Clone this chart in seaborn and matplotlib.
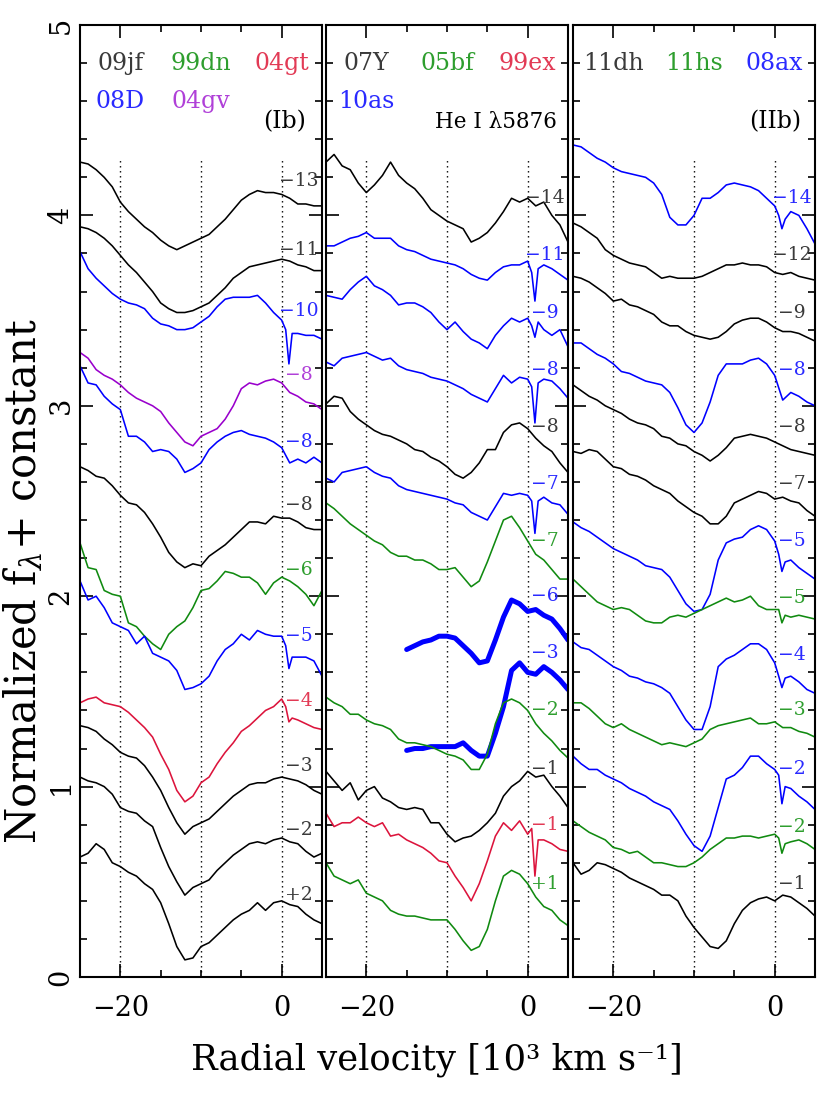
import matplotlib
matplotlib.use("Agg")
import matplotlib.pyplot as plt
import seaborn as sns
from matplotlib.ticker import MultipleLocator

# velocity grids [10^3 km/s]
VEL = [-25, -24, -23, -22, -21, -20, -19, -18, -17, -16, -15, -14, -13, -12, -11, -10,
       -9, -8, -7, -6, -5, -4, -3, -2, -1, 0, 1, 2, 3, 4, 5]
# same grid, finer around the narrow Na I D notch near +1
VEL_NA = [-25, -24, -23, -22, -21, -20, -19, -18, -17, -16, -15, -14, -13, -12, -11, -10,
          -9, -8, -7, -6, -5, -4, -3, -2, -1, 0, 0.5, 0.9, 1.3, 2, 3, 4, 5]
VEL_10AS = [-15, -14, -13, -12, -11, -10, -9, -8, -7, -6, -5, -4, -3, -2, -1, 0, 1, 2, 3, 4, 5]

# --- Ib panel ---
IB_09JF_M13 = [4.28, 4.27, 4.24, 4.20, 4.15, 4.07, 4.02, 3.98, 3.94, 3.91, 3.87, 3.84, 3.82, 3.84, 3.86, 3.88,
               3.90, 3.94, 3.98, 4.03, 4.08, 4.11, 4.13, 4.12, 4.12, 4.11, 4.09, 4.06, 4.06, 4.05, 4.05]
IB_09JF_M11 = [3.94, 3.93, 3.91, 3.88, 3.84, 3.79, 3.74, 3.70, 3.65, 3.60, 3.54, 3.51, 3.49, 3.49, 3.50, 3.52,
               3.54, 3.58, 3.62, 3.67, 3.70, 3.73, 3.74, 3.75, 3.76, 3.77, 3.76, 3.74, 3.73, 3.71, 3.71]
IB_08D_M10 = [3.81, 3.72, 3.67, 3.63, 3.59, 3.56, 3.54, 3.53, 3.51, 3.46, 3.43, 3.42, 3.40, 3.40, 3.41, 3.44,
              3.47, 3.52, 3.56, 3.57, 3.57, 3.57, 3.58, 3.54, 3.49, 3.45, 3.40, 3.22, 3.38, 3.38, 3.37, 3.37, 3.35]
IB_04GV_M8 = [3.28, 3.25, 3.19, 3.16, 3.14, 3.11, 3.07, 3.04, 3.02, 3.00, 2.97, 2.91, 2.86, 2.81, 2.79, 2.84,
              2.86, 2.88, 2.93, 3.00, 3.09, 3.12, 3.11, 3.13, 3.14, 3.12, 3.07, 3.05, 3.02, 3.01, 2.98]
IB_08D_M8 = [3.21, 3.12, 3.11, 3.05, 3.01, 2.98, 2.84, 2.84, 2.81, 2.76, 2.77, 2.76, 2.72, 2.65, 2.67, 2.70,
             2.77, 2.81, 2.84, 2.86, 2.87, 2.85, 2.84, 2.83, 2.81, 2.78, 2.70, 2.72, 2.70, 2.73, 2.70]
IB_09JF_M8 = [2.68, 2.66, 2.63, 2.62, 2.58, 2.53, 2.49, 2.48, 2.44, 2.38, 2.31, 2.23, 2.18, 2.15, 2.17, 2.16,
              2.21, 2.24, 2.27, 2.31, 2.35, 2.39, 2.39, 2.38, 2.42, 2.41, 2.41, 2.39, 2.36, 2.35, 2.35]
IB_99DN_M6 = [2.28, 2.15, 2.14, 2.03, 2.01, 2.00, 1.86, 1.84, 1.79, 1.75, 1.72, 1.80, 1.84, 1.87, 1.94, 2.03,
              2.04, 2.08, 2.13, 2.12, 2.10, 2.10, 2.07, 2.01, 2.07, 2.10, 2.08, 2.05, 2.01, 1.95, 2.03]
IB_08D_M5 = [2.08, 1.98, 2.00, 1.94, 1.86, 1.84, 1.82, 1.75, 1.79, 1.70, 1.68, 1.66, 1.61, 1.51, 1.52, 1.54,
             1.58, 1.66, 1.72, 1.75, 1.80, 1.77, 1.82, 1.80, 1.79, 1.79, 1.74, 1.62, 1.68, 1.68, 1.68, 1.66, 1.58]
IB_04GT_M4 = [1.44, 1.46, 1.47, 1.44, 1.43, 1.42, 1.39, 1.35, 1.31, 1.26, 1.17, 1.09, 0.98, 0.92, 0.95, 1.02,
              1.05, 1.12, 1.18, 1.23, 1.29, 1.32, 1.36, 1.40, 1.42, 1.46, 1.42, 1.34, 1.36, 1.35, 1.33, 1.31, 1.30]
IB_09JF_M3 = [1.32, 1.31, 1.29, 1.25, 1.22, 1.18, 1.16, 1.15, 1.11, 1.05, 0.98, 0.89, 0.81, 0.75, 0.79, 0.81,
              0.83, 0.87, 0.91, 0.95, 0.98, 1.01, 1.02, 1.02, 1.04, 1.05, 1.04, 1.03, 1.01, 0.98, 0.96]
IB_09JF_M2 = [1.05, 1.03, 1.02, 1.00, 0.96, 0.89, 0.87, 0.86, 0.82, 0.79, 0.68, 0.58, 0.50, 0.43, 0.47, 0.49,
              0.51, 0.56, 0.60, 0.64, 0.67, 0.70, 0.71, 0.70, 0.72, 0.73, 0.71, 0.70, 0.66, 0.63, 0.65]
IB_09JF_P2 = [0.63, 0.65, 0.70, 0.67, 0.60, 0.58, 0.55, 0.53, 0.49, 0.46, 0.39, 0.28, 0.16, 0.09, 0.10, 0.16,
              0.18, 0.22, 0.26, 0.30, 0.33, 0.35, 0.39, 0.35, 0.39, 0.40, 0.38, 0.37, 0.33, 0.30, 0.28]

# --- He I panel ---
HE_07Y_M14 = [4.28, 4.32, 4.26, 4.24, 4.17, 4.12, 4.16, 4.21, 4.28, 4.21, 4.17, 4.14, 4.09, 4.03, 4.00, 3.97,
              3.95, 3.93, 3.86, 3.88, 3.91, 3.96, 4.02, 4.09, 4.07, 4.09, 4.05, 4.07, 4.00, 3.95, 3.86]
HE_10AS_M11 = [3.84, 3.84, 3.86, 3.88, 3.89, 3.91, 3.88, 3.88, 3.88, 3.84, 3.82, 3.81, 3.79, 3.77, 3.76, 3.75,
               3.74, 3.72, 3.69, 3.67, 3.66, 3.70, 3.73, 3.74, 3.74, 3.76, 3.70, 3.55, 3.72, 3.74, 3.72, 3.69, 3.66]
HE_10AS_M9 = [3.58, 3.57, 3.56, 3.61, 3.65, 3.68, 3.63, 3.61, 3.58, 3.53, 3.54, 3.54, 3.52, 3.49, 3.44, 3.40,
              3.44, 3.39, 3.35, 3.33, 3.30, 3.37, 3.42, 3.46, 3.44, 3.46, 3.42, 3.36, 3.44, 3.40, 3.37, 3.40, 3.31]
HE_10AS_M8 = [3.23, 3.21, 3.25, 3.26, 3.27, 3.28, 3.26, 3.24, 3.25, 3.21, 3.19, 3.18, 3.17, 3.15, 3.14, 3.13,
              3.11, 3.09, 3.06, 3.04, 3.02, 3.09, 3.16, 3.12, 3.15, 3.14, 3.10, 2.91, 3.12, 3.14, 3.13, 3.09, 3.04]
HE_07Y_M8 = [3.01, 3.05, 3.04, 2.97, 2.93, 2.90, 2.87, 2.85, 2.84, 2.82, 2.80, 2.77, 2.76, 2.73, 2.71, 2.68,
             2.64, 2.62, 2.65, 2.70, 2.77, 2.77, 2.86, 2.90, 2.91, 2.88, 2.83, 2.79, 2.76, 2.70, 2.65]
HE_10AS_M7 = [2.62, 2.60, 2.65, 2.66, 2.67, 2.68, 2.65, 2.63, 2.62, 2.58, 2.56, 2.55, 2.54, 2.53, 2.52, 2.51,
              2.49, 2.48, 2.44, 2.42, 2.40, 2.47, 2.54, 2.53, 2.54, 2.53, 2.50, 2.33, 2.50, 2.52, 2.49, 2.48, 2.43]
HE_05BF_M7 = [2.49, 2.46, 2.42, 2.38, 2.35, 2.32, 2.29, 2.27, 2.23, 2.21, 2.21, 2.19, 2.19, 2.17, 2.14, 2.14,
              2.15, 2.10, 2.05, 2.08, 2.18, 2.29, 2.40, 2.42, 2.36, 2.29, 2.22, 2.19, 2.14, 2.09, 2.09]
HE_10AS_M6 = [1.72, 1.74, 1.76, 1.77, 1.79, 1.79, 1.78, 1.74, 1.70, 1.65, 1.66, 1.77, 1.89, 1.98, 1.96, 1.92,
              1.93, 1.90, 1.88, 1.83, 1.77]
HE_10AS_M3 = [1.19, 1.20, 1.20, 1.21, 1.21, 1.21, 1.21, 1.23, 1.19, 1.16, 1.16, 1.28, 1.42, 1.61, 1.65, 1.60,
              1.59, 1.63, 1.60, 1.56, 1.51]
HE_05BF_M2 = [1.47, 1.44, 1.42, 1.38, 1.38, 1.35, 1.33, 1.32, 1.30, 1.25, 1.23, 1.23, 1.22, 1.21, 1.19, 1.17,
              1.16, 1.14, 1.09, 1.09, 1.17, 1.33, 1.44, 1.46, 1.44, 1.40, 1.33, 1.28, 1.24, 1.19, 1.15]
HE_07Y_M1 = [1.08, 1.03, 0.98, 1.02, 0.93, 0.98, 1.00, 0.94, 0.92, 0.89, 0.88, 0.89, 0.88, 0.81, 0.81, 0.75,
             0.71, 0.73, 0.74, 0.77, 0.81, 0.86, 0.95, 1.00, 1.03, 1.08, 1.05, 1.06, 1.00, 0.95, 0.89]
HE_99EX_M1 = [0.86, 0.79, 0.81, 0.81, 0.84, 0.81, 0.79, 0.81, 0.74, 0.75, 0.72, 0.70, 0.68, 0.65, 0.61, 0.60,
              0.53, 0.47, 0.40, 0.49, 0.61, 0.74, 0.81, 0.77, 0.82, 0.75, 0.78, 0.53, 0.72, 0.72, 0.70, 0.67, 0.66]
HE_05BF_P1 = [0.60, 0.53, 0.51, 0.49, 0.51, 0.44, 0.42, 0.40, 0.35, 0.33, 0.32, 0.32, 0.31, 0.30, 0.30, 0.30,
              0.25, 0.19, 0.14, 0.16, 0.25, 0.40, 0.53, 0.56, 0.54, 0.49, 0.42, 0.37, 0.35, 0.30, 0.27]

# --- IIb panel ---
IIB_08AX_M14 = [4.37, 4.36, 4.33, 4.30, 4.28, 4.25, 4.23, 4.22, 4.21, 4.20, 4.17, 4.11, 3.99, 3.95, 3.95, 4.00,
                4.09, 4.09, 4.12, 4.16, 4.17, 4.16, 4.15, 4.13, 4.09, 4.05, 4.00, 3.93, 3.98, 4.02, 4.00, 3.93, 3.85]
IIB_11DH_M12 = [3.96, 3.94, 3.91, 3.88, 3.82, 3.79, 3.77, 3.75, 3.74, 3.73, 3.70, 3.67, 3.68, 3.67, 3.67, 3.67,
                3.68, 3.70, 3.72, 3.74, 3.74, 3.75, 3.74, 3.74, 3.73, 3.70, 3.69, 3.70, 3.68, 3.67, 3.66]
IIB_11DH_M9 = [3.68, 3.67, 3.65, 3.62, 3.59, 3.55, 3.56, 3.53, 3.52, 3.50, 3.48, 3.44, 3.42, 3.42, 3.39, 3.37,
               3.36, 3.35, 3.36, 3.39, 3.43, 3.45, 3.46, 3.46, 3.44, 3.41, 3.39, 3.39, 3.38, 3.36, 3.34]
IIB_08AX_M8 = [3.33, 3.33, 3.30, 3.27, 3.25, 3.22, 3.18, 3.17, 3.15, 3.13, 3.12, 3.11, 3.07, 2.99, 2.90, 2.86,
               2.91, 3.02, 3.16, 3.22, 3.22, 3.22, 3.24, 3.25, 3.22, 3.16, 3.03, 3.07, 3.05, 3.02, 3.00]
IIB_11DH_M8 = [3.11, 3.08, 3.05, 3.03, 3.00, 2.98, 2.96, 2.93, 2.91, 2.90, 2.88, 2.84, 2.83, 2.80, 2.79, 2.76,
               2.74, 2.71, 2.74, 2.78, 2.83, 2.84, 2.85, 2.84, 2.83, 2.81, 2.79, 2.77, 2.76, 2.75, 2.74]
IIB_11DH_M7 = [2.76, 2.75, 2.77, 2.76, 2.72, 2.68, 2.67, 2.64, 2.63, 2.61, 2.58, 2.56, 2.54, 2.50, 2.47, 2.44,
               2.42, 2.38, 2.38, 2.42, 2.49, 2.51, 2.53, 2.55, 2.54, 2.51, 2.52, 2.50, 2.49, 2.45, 2.42]
IIB_08AX_M5 = [2.39, 2.36, 2.34, 2.31, 2.28, 2.25, 2.23, 2.21, 2.19, 2.16, 2.15, 2.14, 2.10, 2.03, 1.96, 1.92,
               1.93, 2.01, 2.19, 2.28, 2.30, 2.31, 2.35, 2.37, 2.35, 2.29, 2.22, 2.13, 2.18, 2.19, 2.15, 2.12, 2.09]
IIB_11HS_M5 = [2.09, 2.05, 2.01, 1.97, 1.95, 1.93, 1.94, 1.93, 1.90, 1.87, 1.86, 1.86, 1.89, 1.90, 1.89, 1.91,
               1.93, 1.95, 1.97, 1.99, 1.97, 1.98, 2.00, 1.95, 1.93, 1.93, 1.93, 1.86, 1.90, 1.89, 1.90, 1.89, 1.88]
IIB_08AX_M4 = [1.76, 1.73, 1.72, 1.69, 1.66, 1.63, 1.61, 1.58, 1.57, 1.55, 1.54, 1.52, 1.49, 1.42, 1.35, 1.30,
               1.30, 1.42, 1.63, 1.67, 1.69, 1.72, 1.75, 1.75, 1.72, 1.65, 1.58, 1.52, 1.57, 1.58, 1.55, 1.51, 1.49]
IIB_11HS_M3 = [1.44, 1.44, 1.41, 1.37, 1.33, 1.31, 1.33, 1.30, 1.28, 1.26, 1.24, 1.22, 1.23, 1.22, 1.21, 1.23,
               1.25, 1.30, 1.32, 1.33, 1.34, 1.35, 1.36, 1.33, 1.33, 1.34, 1.31, 1.31, 1.29, 1.28, 1.26]
IIB_08AX_M2 = [1.16, 1.12, 1.09, 1.09, 1.06, 1.04, 1.02, 0.99, 0.97, 0.95, 0.92, 0.90, 0.88, 0.82, 0.75, 0.69,
               0.66, 0.74, 0.89, 1.04, 1.06, 1.10, 1.16, 1.16, 1.12, 1.09, 1.06, 0.91, 1.00, 0.99, 0.95, 0.92, 0.88]
IIB_11HS_M2 = [0.82, 0.79, 0.76, 0.74, 0.72, 0.68, 0.67, 0.65, 0.66, 0.63, 0.60, 0.60, 0.59, 0.58, 0.58, 0.60,
               0.63, 0.67, 0.70, 0.73, 0.73, 0.74, 0.74, 0.73, 0.74, 0.75, 0.73, 0.65, 0.70, 0.71, 0.72, 0.70, 0.67]
IIB_11DH_M1 = [0.60, 0.54, 0.56, 0.60, 0.59, 0.57, 0.55, 0.52, 0.50, 0.48, 0.46, 0.43, 0.43, 0.40, 0.32, 0.26,
               0.21, 0.16, 0.15, 0.19, 0.28, 0.35, 0.39, 0.41, 0.42, 0.40, 0.43, 0.42, 0.39, 0.36, 0.32]

# epoch labels (days from maximum) and the height they sit at
IB_EPOCHS = ["\u221213", "\u221211", "\u221210", "\u22128", "\u22128", "\u22128", "\u22126", "\u22125", "\u22124",
             "\u22123", "\u22122", "+2"]
IB_EPOCH_Y = [4.18, 3.82, 3.50, 3.16, 2.81, 2.48, 2.14, 1.79, 1.45, 1.11, 0.77, 0.43]
HE_EPOCHS = ["\u221214", "\u221211", "\u22129", "\u22128", "\u22128", "\u22127", "\u22127", "\u22126", "\u22123",
             "\u22122", "\u22121", "\u22121", "+1"]
HE_EPOCH_Y = [4.09, 3.79, 3.49, 3.19, 2.89, 2.59, 2.29, 2.00, 1.70, 1.40, 1.09, 0.80, 0.49]
IIB_EPOCHS = ["\u221214", "\u221212", "\u22129", "\u22128", "\u22128", "\u22127", "\u22125", "\u22125", "\u22124",
              "\u22123", "\u22122", "\u22122", "\u22121"]
IIB_EPOCH_Y = [4.09, 3.79, 3.49, 3.19, 2.89, 2.59, 2.29, 1.99, 1.69, 1.40, 1.09, 0.79, 0.49]

BLACK, GREEN, RED, BLUE, PURPLE = "black", "#108a10", "#dc143c", "#0000ff", "#9900cc"
TEXT_COL = {BLACK: "#3a3a3a", GREEN: "#2e9e2e", RED: "#e23a55", BLUE: "#2a2aff", PURPLE: "#b040d8"}

ib = [(VEL, IB_09JF_M13, BLACK), (VEL, IB_09JF_M11, BLACK), (VEL_NA, IB_08D_M10, BLUE),
      (VEL, IB_04GV_M8, PURPLE), (VEL, IB_08D_M8, BLUE), (VEL, IB_09JF_M8, BLACK),
      (VEL, IB_99DN_M6, GREEN), (VEL_NA, IB_08D_M5, BLUE), (VEL_NA, IB_04GT_M4, RED),
      (VEL, IB_09JF_M3, BLACK), (VEL, IB_09JF_M2, BLACK), (VEL, IB_09JF_P2, BLACK)]
he = [(VEL, HE_07Y_M14, BLACK), (VEL_NA, HE_10AS_M11, BLUE), (VEL_NA, HE_10AS_M9, BLUE),
      (VEL_NA, HE_10AS_M8, BLUE), (VEL, HE_07Y_M8, BLACK), (VEL_NA, HE_10AS_M7, BLUE),
      (VEL, HE_05BF_M7, GREEN), (VEL_10AS, HE_10AS_M6, BLUE), (VEL_10AS, HE_10AS_M3, BLUE),
      (VEL, HE_05BF_M2, GREEN), (VEL, HE_07Y_M1, BLACK), (VEL_NA, HE_99EX_M1, RED),
      (VEL, HE_05BF_P1, GREEN)]
iib = [(VEL_NA, IIB_08AX_M14, BLUE), (VEL, IIB_11DH_M12, BLACK), (VEL, IIB_11DH_M9, BLACK),
       (VEL, IIB_08AX_M8, BLUE), (VEL, IIB_11DH_M8, BLACK), (VEL, IIB_11DH_M7, BLACK),
       (VEL_NA, IIB_08AX_M5, BLUE), (VEL_NA, IIB_11HS_M5, GREEN), (VEL_NA, IIB_08AX_M4, BLUE),
       (VEL, IIB_11HS_M3, GREEN), (VEL_NA, IIB_08AX_M2, BLUE), (VEL_NA, IIB_11HS_M2, GREEN),
       (VEL, IIB_11DH_M1, BLACK)]

panels = [
    dict(spectra=ib, epochs=IB_EPOCHS, epoch_y=IB_EPOCH_Y, left=80,
         names=[("09jf", BLACK, -20, 4.8), ("99dn", GREEN, -10, 4.8), ("04gt", RED, 0, 4.8),
                ("08D", BLUE, -20, 4.6), ("04gv", PURPLE, -10, 4.6)],
         tag="(Ib)", tag_x=3.0),
    dict(spectra=he, epochs=HE_EPOCHS, epoch_y=HE_EPOCH_Y, left=326,
         names=[("07Y", BLACK, -20, 4.8), ("05bf", GREEN, -10, 4.8), ("99ex", RED, 0, 4.8),
                ("10as", BLUE, -20, 4.6)],
         tag="He I \u03bb5876", tag_x=3.6),
    dict(spectra=iib, epochs=IIB_EPOCHS, epoch_y=IIB_EPOCH_Y, left=573,
         names=[("11dh", BLACK, -20, 4.8), ("11hs", GREEN, -10, 4.8), ("08ax", BLUE, 0, 4.8)],
         tag="(IIb)", tag_x=3.3),
]

sns.set_style("ticks")
plt.rcParams["font.family"] = ["DejaVu Serif", "DejaVu Sans"]
plt.rcParams["mathtext.fontset"] = "dejavuserif"
plt.rcParams["text.color"] = "black"
plt.rcParams["xtick.labelcolor"] = "black"
plt.rcParams["ytick.labelcolor"] = "black"

W, H = 830, 1106
fig = plt.figure(figsize=(W / 100, H / 100), dpi=100)

for i, p in enumerate(panels):
    ax = fig.add_axes([p["left"] / W, 129 / H, 242 / W, 952 / H])
    ax.vlines([-20, -10, 0], 0, 4.29, colors="black", linestyles=(0, (1, 2.6)), lw=1.0)
    for vel, flux, col in p["spectra"]:
        thick = vel is VEL_10AS  # the 10as -6/-3 spectra are dense and noisy, so they print as a band
        sns.lineplot(x=vel, y=flux, ax=ax, color=col, lw=3.6 if thick else 1.15,
                     sort=False, estimator=None, legend=False)
    for (vel, flux, col), lab, ly in zip(p["spectra"], p["epochs"], p["epoch_y"]):
        ax.text(2.1, ly, lab, color=TEXT_COL[col], ha="center", va="center", fontsize=13.5)
    for name, col, nx, ny in p["names"]:
        ax.text(nx, ny, name, color=TEXT_COL[col], ha="center", va="center", fontsize=17)
    ax.text(p["tag_x"], 4.49, p["tag"], color="black", ha="right", va="center",
            fontsize=15.5 if i == 1 else 17)

    ax.set(xlim=(-25, 5), ylim=(0, 5), xlabel="", ylabel="")
    ax.xaxis.set_major_locator(MultipleLocator(20))
    ax.xaxis.set_minor_locator(MultipleLocator(5))
    ax.yaxis.set_major_locator(MultipleLocator(1))
    ax.yaxis.set_minor_locator(MultipleLocator(0.2))
    ax.tick_params(which="both", direction="in", top=True, right=True, width=1.2, color="black")
    ax.tick_params(which="major", length=9.5)
    ax.tick_params(which="minor", length=5)
    ax.tick_params(axis="x", labelsize=19.5, pad=13)
    ax.tick_params(axis="y", labelsize=19.5, pad=4, labelleft=(i == 0))
    ax.set_xticks([-20, 0], ["\u221220", "0"])
    if i == 0:
        plt.setp(ax.get_yticklabels(), rotation=90, va="center")
    for s in ax.spines.values():
        s.set_linewidth(1.5)
        s.set_color("black")

fig.text(437 / W, 1 - 1060 / H, "Radial velocity [10\u00b3 km s\u207b\u00b9]", ha="center", va="center",
         fontsize=25.5)
fig.text(24 / W, 1 - 581 / H, r"Normalized f$_\lambda$+ constant", rotation=90, ha="center",
         va="center", fontsize=30)

fig.savefig("out.png", dpi=100)
